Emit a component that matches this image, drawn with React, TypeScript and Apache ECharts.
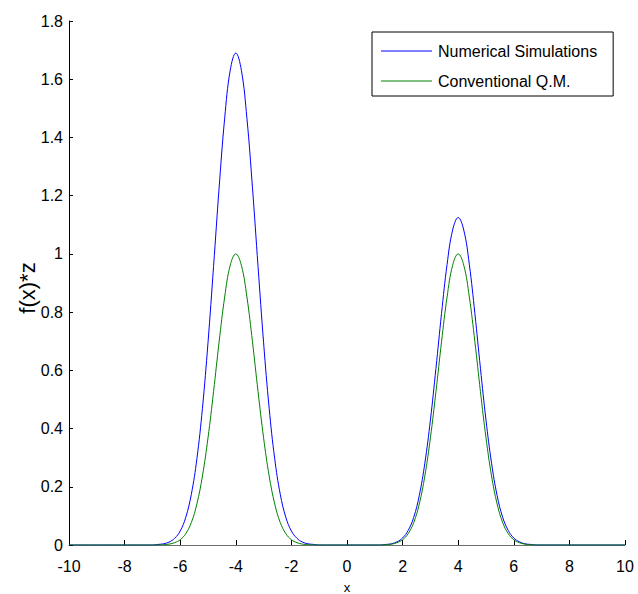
import React, { useEffect, useRef } from "react";
import * as echarts from "echarts";

// x positions of the samples (step 0.2 from -10 to 10)
const xs = [
  -10, -9.8, -9.6, -9.4, -9.2, -9, -8.8, -8.6, -8.4, -8.2,
  -8, -7.8, -7.6, -7.4, -7.2, -7, -6.8, -6.6, -6.4, -6.2,
  -6, -5.8, -5.6, -5.4, -5.2, -5, -4.8, -4.6, -4.4, -4.2,
  -4, -3.8, -3.6, -3.4, -3.2, -3, -2.8, -2.6, -2.4, -2.2,
  -2, -1.8, -1.6, -1.4, -1.2, -1, -0.8, -0.6, -0.4, -0.2,
  0, 0.2, 0.4, 0.6, 0.8, 1, 1.2, 1.4, 1.6, 1.8,
  2, 2.2, 2.4, 2.6, 2.8, 3, 3.2, 3.4, 3.6, 3.8,
  4, 4.2, 4.4, 4.6, 4.8, 5, 5.2, 5.4, 5.6, 5.8,
  6, 6.2, 6.4, 6.6, 6.8, 7, 7.2, 7.4, 7.6, 7.8,
  8, 8.2, 8.4, 8.6, 8.8, 9, 9.2, 9.4, 9.6, 9.8,
  10,
];

const numerical = [
  0, 0, 0, 0, 0, 0, 0, 0, 0, 0,
  0, 0, 0, 0, 0, 0, 0.002, 0.004, 0.01, 0.023,
  0.048, 0.095, 0.174, 0.296, 0.47, 0.695, 0.957, 1.227, 1.466, 1.631,
  1.69, 1.631, 1.466, 1.227, 0.957, 0.695, 0.47, 0.296, 0.174, 0.095,
  0.048, 0.023, 0.01, 0.004, 0.002, 0, 0, 0, 0, 0,
  0, 0, 0, 0, 0, 0, 0, 0.002, 0.004, 0.011,
  0.024, 0.05, 0.095, 0.17, 0.281, 0.429, 0.607, 0.795, 0.964, 1.082,
  1.125, 1.082, 0.964, 0.795, 0.607, 0.429, 0.281, 0.17, 0.095, 0.05,
  0.024, 0.011, 0.004, 0.002, 0, 0, 0, 0, 0, 0,
  0, 0, 0, 0, 0, 0, 0, 0, 0, 0,
  0,
];

const conventional = [
  0, 0, 0, 0, 0, 0, 0, 0, 0, 0,
  0, 0, 0, 0, 0, 0, 0, 0.001, 0.003, 0.008,
  0.018, 0.039, 0.077, 0.141, 0.237, 0.368, 0.527, 0.698, 0.852, 0.961,
  1.0, 0.961, 0.852, 0.698, 0.527, 0.368, 0.237, 0.141, 0.077, 0.039,
  0.018, 0.008, 0.003, 0.001, 0, 0, 0, 0, 0, 0,
  0, 0, 0, 0, 0, 0, 0, 0.001, 0.003, 0.008,
  0.018, 0.039, 0.077, 0.141, 0.237, 0.368, 0.527, 0.698, 0.852, 0.961,
  1.0, 0.961, 0.852, 0.698, 0.527, 0.368, 0.237, 0.141, 0.077, 0.039,
  0.018, 0.008, 0.003, 0.001, 0, 0, 0, 0, 0, 0,
  0, 0, 0, 0, 0, 0, 0, 0, 0, 0,
  0,
];

const seriesNames = ["Numerical Simulations", "Conventional Q.M."];
const seriesColors = ["#0000ff", "#008000"];
const xTicks = { min: -10, max: 10, interval: 2 };
const yTicks = { min: 0, max: 1.8, interval: 0.2 };
const xTitle = "x";
const yTitle = "f(x)*z";

const FONT = "'Liberation Sans', Arial, Helvetica, sans-serif";

export default function App() {
  const ref = useRef<HTMLDivElement>(null);
  useEffect(() => {
    if (!ref.current) return;
    const chart = echarts.init(ref.current, undefined, { renderer: "svg" });
    chart.setOption({
      animation: false,
      backgroundColor: "#ffffff",
      textStyle: { fontFamily: FONT },
      grid: {
        left: 69,
        right: 13,
        top: 21,
        bottom: 49,
        containLabel: false,
        outerBoundsMode: "none",
      },
      graphic: [
        {
          type: "text",
          x: 27,
          y: 288,
          rotation: Math.PI / 2,
          style: {
            text: yTitle,
            fontSize: 22,
            fontFamily: FONT,
            fill: "#000000",
            textAlign: "center",
            textVerticalAlign: "middle",
          },
        },
      ],
      legend: {
        orient: "vertical",
        left: 372,
        top: 32,
        data: seriesNames.map((n) => ({ name: n, icon: "rect" })),
        itemWidth: 51,
        itemHeight: 1.2,
        itemGap: 12,
        padding: [10, 16, 6, 9],
        borderColor: "#000000",
        borderWidth: 1,
        borderRadius: 0,
        backgroundColor: "#ffffff",
        textStyle: {
          fontSize: 16,
          lineHeight: 18,
          height: 18,
          color: "#000000",
          fontFamily: FONT,
          padding: [0, 0, 0, 1],
        },
      },
      xAxis: {
        type: "value",
        min: xTicks.min,
        max: xTicks.max,
        interval: xTicks.interval,
        name: xTitle,
        nameLocation: "middle",
        nameGap: 36,
        nameTextStyle: { fontSize: 13, color: "#000000", fontFamily: FONT },
        axisLine: { show: true, onZero: false, lineStyle: { color: "#6e6e6e", width: 1 } },
        axisTick: { show: true, inside: true, length: 5, lineStyle: { color: "#000000" } },
        axisLabel: { fontSize: 16, color: "#000000", margin: 13, fontFamily: FONT },
        splitLine: { show: false },
      },
      yAxis: {
        type: "value",
        min: yTicks.min,
        max: yTicks.max,
        interval: yTicks.interval,
        axisLine: { show: true, onZero: false, lineStyle: { color: "#000000", width: 1 } },
        axisTick: { show: true, inside: true, length: 4, lineStyle: { color: "#000000" } },
        axisLabel: { fontSize: 16, color: "#000000", margin: 6, fontFamily: FONT },
        splitLine: { show: false },
      },
      series: [
        {
          name: seriesNames[0],
          type: "line",
          data: xs.map((x, i) => [x, numerical[i]]),
          symbol: "none",
          smooth: 0.4,
          lineStyle: { color: seriesColors[0], width: 1 },
          itemStyle: { color: seriesColors[0] },
          z: 3,
        },
        {
          name: seriesNames[1],
          type: "line",
          data: xs.map((x, i) => [x, conventional[i]]),
          symbol: "none",
          smooth: 0.4,
          lineStyle: { color: seriesColors[1], width: 1 },
          itemStyle: { color: seriesColors[1] },
          z: 4,
        },
      ],
    });
    return () => chart.dispose();
  }, []);
  return (
    <div
      ref={ref}
      style={{ position: "fixed", left: 0, top: 0, width: 638, height: 594, background: "#fff" }}
    />
  );
}
